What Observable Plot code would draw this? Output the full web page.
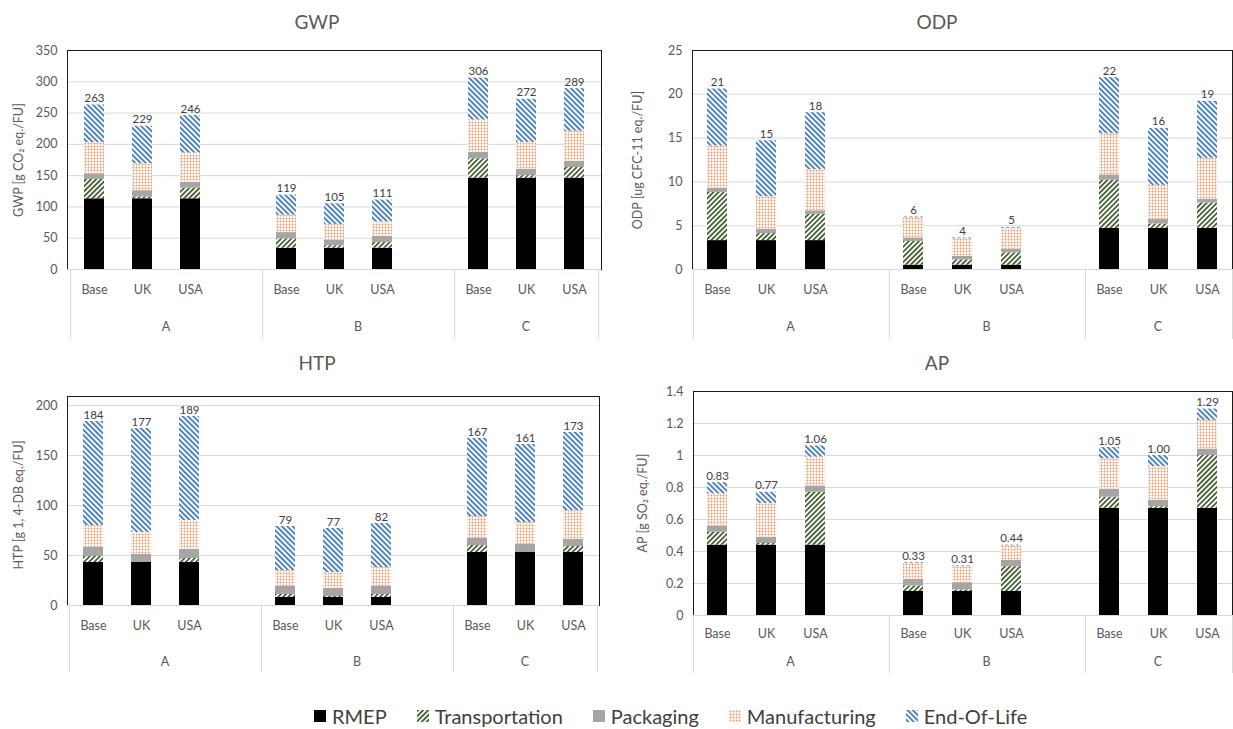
<!DOCTYPE html>
<html>
<head>
<meta charset="utf-8">
<script src="https://cdn.jsdelivr.net/npm/d3@7"></script>
<script src="https://cdn.jsdelivr.net/npm/@observablehq/plot@0.6"></script>
<style>
  body { margin: 0; background: #fff; font-family: Lato, "Open Sans", sans-serif; }
  #page { position: relative; width: 1233px; height: 729px; overflow: hidden; background: #fff; }
  .panel { position: absolute; }
  .title { position: absolute; font-size: 19px; color: #595959; transform: translate(-50%, -50%); white-space: nowrap; }
  .ylab { position: absolute; font-size: 12.5px; color: #595959; transform: translate(-50%, -50%) rotate(-90deg); white-space: nowrap; }
  .legend { position: absolute; top: 704px; left: 314px; display: flex; gap: 30px; align-items: center; font-size: 20px; color: #404040; }
  .legend span.item { display: flex; align-items: center; gap: 6px; }
</style>
</head>
<body>
<svg width="0" height="0" style="position:absolute">
  <defs>
    <pattern id="pTrans" patternUnits="userSpaceOnUse" width="3.6" height="3.6" patternTransform="rotate(45)">
      <rect width="3.6" height="3.6" fill="#fff"/>
      <rect width="1.7" height="3.6" fill="#3b5a27"/>
    </pattern>
    <pattern id="pManu" patternUnits="userSpaceOnUse" width="3" height="3">
      <rect width="3" height="3" fill="#fff"/>
      <circle cx="1.5" cy="1.5" r="0.95" fill="#f0935a"/>
    </pattern>
    <pattern id="pEol" patternUnits="userSpaceOnUse" width="3.8" height="3.8" patternTransform="rotate(-45)">
      <rect width="3.8" height="3.8" fill="#fff"/>
      <rect width="1.8" height="3.8" fill="#3f7cc4"/>
    </pattern>
  </defs>
</svg>
<div id="page"></div>
<script>
// Scenario groups, sites and life-cycle stages
const designs = ["A", "B", "C"];
const sites = ["Base", "UK", "USA"];
const sources = ["RMEP", "Transportation", "Packaging", "Manufacturing", "End-Of-Life"];

// Values per stage (rows follow `sources`), bars ordered A-Base, A-UK, A-USA, B-Base, ... C-USA
const gwpValues = [
  [113, 113, 113, 34, 34, 34, 146, 146, 146],
  [31, 3, 17, 15, 4, 9, 31, 4, 17],
  [9, 10, 9, 10, 9, 10, 10, 10, 10],
  [50, 43, 47, 28, 25, 23, 52, 43, 48],
  [60, 60, 60, 32, 33, 35, 67, 69, 68]
];
const odpValues = [
  [3.3, 3.3, 3.3, 0.5, 0.5, 0.5, 4.7, 4.7, 4.7],
  [5.5, 0.8, 3.0, 2.7, 0.6, 1.4, 5.5, 0.5, 2.9],
  [0.5, 0.5, 0.4, 0.4, 0.4, 0.4, 0.6, 0.5, 0.4],
  [4.8, 3.7, 4.7, 2.3, 2.0, 2.4, 4.7, 3.9, 4.7],
  [6.5, 6.4, 6.5, 0.1, 0.1, 0.1, 6.4, 6.5, 6.5]
];
const htpValues = [
  [43, 43, 43, 8, 8, 8, 53, 53, 53],
  [6, 0, 4, 3, 1, 3, 7, 0, 6],
  [9, 8, 9, 8, 8, 8, 7, 8, 7],
  [22, 22, 29, 16, 16, 19, 22, 22, 29],
  [104, 104, 104, 44, 44, 44, 78, 78, 78]
];
const apValues = [
  [0.44, 0.44, 0.44, 0.15, 0.15, 0.15, 0.67, 0.67, 0.67],
  [0.08, 0.01, 0.33, 0.035, 0.01, 0.155, 0.07, 0.01, 0.33],
  [0.04, 0.04, 0.04, 0.04, 0.045, 0.04, 0.05, 0.04, 0.04],
  [0.20, 0.21, 0.18, 0.10, 0.10, 0.09, 0.19, 0.21, 0.18],
  [0.07, 0.07, 0.07, 0.005, 0.005, 0.005, 0.07, 0.07, 0.07]
];

// Axis ticks
const gwpTicks = [0, 50, 100, 150, 200, 250, 300, 350];
const odpTicks = [0, 5, 10, 15, 20, 25];
const htpTicks = [0, 50, 100, 150, 200];
const apTicks = [0, 0.2, 0.4, 0.6, 0.8, 1, 1.2, 1.4];

const sourceFills = ["#000000", "url(#pTrans)", "#a5a5a5", "url(#pManu)", "url(#pEol)"];

// Category keys: a blank slot separates the scenario groups
const barKeys = designs.flatMap(d => sites.map(s => `${d}|${s}`));
const xDomain = designs.flatMap((d, i) => [...sites.map(s => `${d}|${s}`), ...(i < designs.length - 1 ? [`${d}|`] : [])]);

function rowsFor(values) {
  return sources.flatMap((src, i) => barKeys.map((key, j) => ({key, source: src, value: values[i][j]})));
}

// Second category tier (A / B / C) with separator lines, drawn from the x band scale
function groupTier(cfg) {
  return (index, scales, values, dims) => {
    const x = scales.x;
    const bw = x.bandwidth();
    const half = (x.step() - bw) / 2;
    const y0 = dims.height - dims.marginBottom;
    const g = d3.create("svg:g");
    const edges = new Set();
    for (const d of designs) {
      const keys = xDomain.filter(k => k.split("|")[0] === d);
      const x1 = x(keys[0]) - half;
      const x2 = x(keys[keys.length - 1]) + bw + half;
      edges.add(Math.round(x1));
      edges.add(Math.round(x2));
      g.append("text")
        .attr("x", (x1 + x2) / 2)
        .attr("y", y0 + cfg.tier2)
        .attr("dy", "0.35em")
        .attr("text-anchor", "middle")
        .attr("fill", "#595959")
        .attr("font-size", 12.5)
        .text(d);
    }
    for (const e of edges) {
      const xe = Math.min(e, dims.width - 1) + 0.5;
      g.append("line")
        .attr("x1", xe).attr("x2", xe)
        .attr("y1", y0).attr("y2", y0 + cfg.sepLen)
        .attr("stroke", "#d9d9d9");
    }
    return g.node();
  };
}

const panels = [
  {title: "GWP", yLabel: "GWP [g CO₂ eq./FU]", values: gwpValues, ticks: gwpTicks, yMax: 350,
   label: d3.format(".0f"), tick: d => String(d),
   left: 0, top: 40, width: 610, height: 305, mt: 10, mr: 9, mb: 76, ml: 67,
   tier1: 20, tier2: 58, sepLen: 70, titleX: 317, titleY: 21, ylabX: 18, ylabY: 160},
  {title: "ODP", yLabel: "ODP [ug CFC-11 eq./FU]", values: odpValues, ticks: odpTicks, yMax: 25,
   label: d3.format(".0f"), tick: d => String(d),
   left: 620, top: 40, width: 613, height: 305, mt: 10, mr: 1, mb: 76, ml: 72,
   tier1: 20, tier2: 58, sepLen: 70, titleX: 937, titleY: 21, ylabX: 637, ylabY: 160},
  {title: "HTP", yLabel: "HTP [g 1, 4-DB eq./FU]", values: htpValues, ticks: htpTicks, yMax: 209,
   label: d3.format(".0f"), tick: d => String(d),
   left: 0, top: 380, width: 610, height: 305, mt: 16, mr: 11, mb: 80, ml: 67,
   tier1: 20, tier2: 57, sepLen: 67, titleX: 317, titleY: 362, ylabX: 18, ylabY: 505},
  {title: "AP", yLabel: "AP [g SO₂ eq./FU]", values: apValues, ticks: apTicks, yMax: 1.4,
   label: d3.format(".2f"), tick: d => String(+d.toFixed(1)),
   left: 620, top: 380, width: 613, height: 305, mt: 11, mr: 1, mb: 70, ml: 73,
   tier1: 18, tier2: 47, sepLen: 58, titleX: 937, titleY: 362, ylabX: 642, ylabY: 503}
];

const page = document.getElementById("page");

for (const p of panels) {
  const rows = rowsFor(p.values);
  const totals = barKeys.map(key => ({key, total: d3.sum(rows.filter(r => r.key === key), r => r.value)}));

  const chart = Plot.plot({
    width: p.width,
    height: p.height,
    marginTop: p.mt,
    marginRight: p.mr,
    marginBottom: p.mb,
    marginLeft: p.ml,
    style: {fontFamily: "Lato, 'Open Sans', sans-serif", fontSize: "12.5px", color: "#595959", background: "transparent", overflow: "visible"},
    x: {type: "band", domain: xDomain, paddingInner: 0.59, paddingOuter: 0.295, round: true, axis: null, label: null},
    y: {domain: [0, p.yMax], axis: null, label: null},
    color: {type: "ordinal", domain: sources, range: sourceFills},
    marks: [
      Plot.gridY(p.ticks, {stroke: "#d9d9d9", strokeOpacity: 1}),
      Plot.barY(rows, {x: "key", y: "value", fill: "source"}),
      Plot.frame({stroke: "#1a1a1a"}),
      Plot.ruleY([0], {stroke: "#d9d9d9"}),
      Plot.axisY(p.ticks, {tickSize: 0, tickPadding: 10, tickFormat: p.tick, fontSize: 12.5, label: null}),
      Plot.axisX({tickSize: 0, tickPadding: p.tier1 - 4.5, tickFormat: k => k.split("|")[1], fontSize: 12.5, label: null}),
      Plot.text(totals, {x: "key", y: "total", text: d => p.label(d.total), dy: -3, lineAnchor: "bottom", fill: "#404040", fontSize: 11.5}),
      groupTier(p)
    ]
  });

  const wrap = document.createElement("div");
  wrap.className = "panel";
  wrap.style.left = p.left + "px";
  wrap.style.top = p.top + "px";
  wrap.appendChild(chart);
  page.appendChild(wrap);

  const t = document.createElement("div");
  t.className = "title";
  t.style.left = p.titleX + "px";
  t.style.top = p.titleY + "px";
  t.textContent = p.title;
  page.appendChild(t);

  const yl = document.createElement("div");
  yl.className = "ylab";
  yl.style.left = p.ylabX + "px";
  yl.style.top = p.ylabY + "px";
  yl.textContent = p.yLabel;
  page.appendChild(yl);
}

// Shared legend for the life-cycle stages
const legend = document.createElement("div");
legend.className = "legend";
sources.forEach((s, i) => {
  const item = document.createElement("span");
  item.className = "item";
  item.innerHTML = `<svg width="12" height="12"><rect width="12" height="12" fill="${sourceFills[i]}"/></svg><span>${s}</span>`;
  legend.appendChild(item);
});
page.appendChild(legend);
</script>
</body>
</html>
